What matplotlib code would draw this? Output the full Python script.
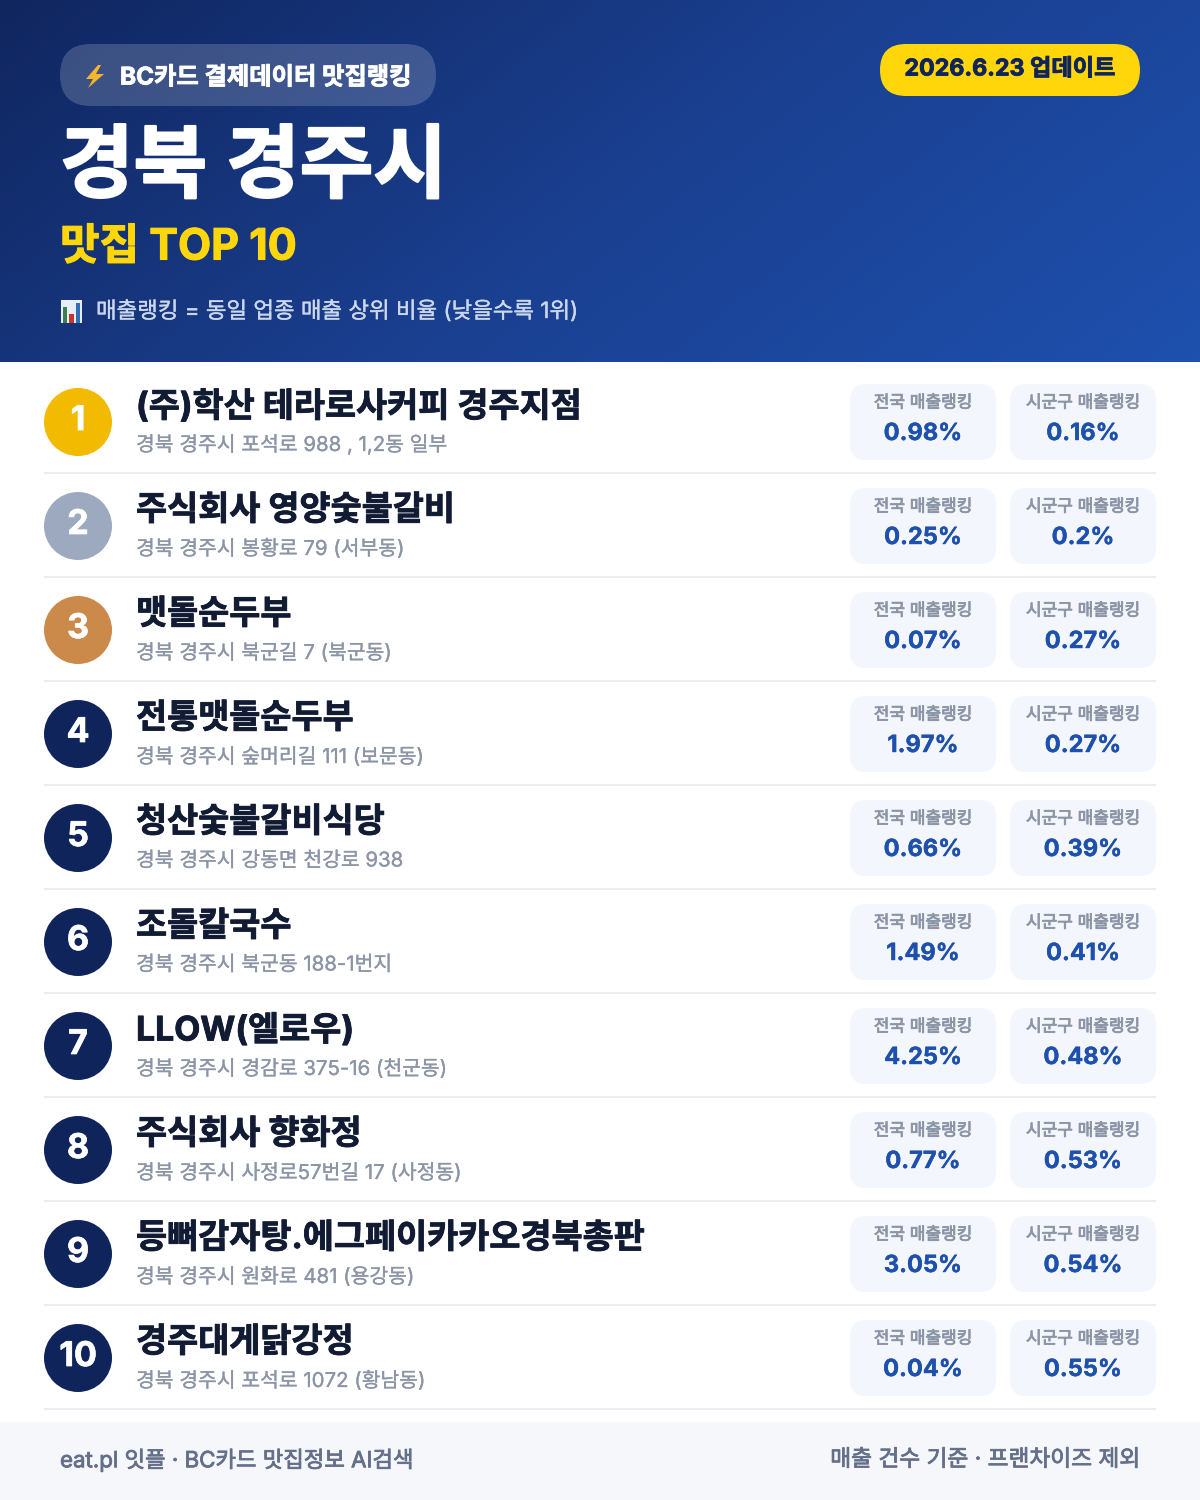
import numpy as np
import matplotlib
matplotlib.use('Agg')
import matplotlib.pyplot as plt
import matplotlib.patheffects as pe
from matplotlib.patches import FancyBboxPatch, Circle, Rectangle, Polygon
from matplotlib.colors import LinearSegmentedColormap

FONT = ['Inter', 'Noto Sans CJK KR', 'DejaVu Sans']
plt.rcParams['font.family'] = FONT

# ---------- data ----------
ranks = [1, 2, 3, 4, 5, 6, 7, 8, 9, 10]
names = ['(주)학산 테라로사커피 경주지점', '주식회사 영양숯불갈비', '맷돌순두부', '전통맷돌순두부', '청산숯불갈비식당',
         '조돌칼국수', 'LLOW(엘로우)', '주식회사 향화정', '등뼈감자탕.에그페이카카오경북총판', '경주대게닭강정']
addresses = ['경북 경주시 포석로 988 , 1,2동 일부', '경북 경주시 봉황로 79 (서부동)', '경북 경주시 북군길 7 (북군동)',
             '경북 경주시 숲머리길 111 (보문동)', '경북 경주시 강동면 천강로 938', '경북 경주시 북군동 188-1번지',
             '경북 경주시 경감로 375-16 (천군동)', '경북 경주시 사정로57번길 17 (사정동)',
             '경북 경주시 원화로 481 (용강동)', '경북 경주시 포석로 1072 (황남동)']
national = ['0.98%', '0.25%', '0.07%', '1.97%', '0.66%', '1.49%', '4.25%', '0.77%', '3.05%', '0.04%']
district = ['0.16%', '0.2%', '0.27%', '0.27%', '0.39%', '0.41%', '0.48%', '0.53%', '0.54%', '0.55%']
badge_colors = ['#F2BA00', '#9CA9BF', '#CC8A4A'] + ['#10245C'] * 7


def px(s):
    return s * 0.72


def heavy(color, w):
    return [pe.withStroke(linewidth=w, foreground=color)]


fig = plt.figure(figsize=(12, 15), dpi=100, facecolor='white')
ax = fig.add_axes([0, 0, 1, 1])
ax.set_xlim(0, 1200)
ax.set_ylim(1500, 0)
ax.axis('off')

# header gradient
cmap = LinearSegmentedColormap.from_list('hdr', ['#10265F', '#1A3F8F', '#1E50AE'])
H, W = 362, 1200
yy, xx = np.mgrid[0:H, 0:W]
t = (xx * 0.78 + yy * 1.0)
t = t / t.max()
ax.imshow(t, cmap=cmap, extent=(0, 1200, 362, 0), aspect='auto', zorder=0, vmin=0, vmax=1)
ax.set_xlim(0, 1200)
ax.set_ylim(1500, 0)


def pill(x, y, w, h, r, **kw):
    p = FancyBboxPatch((x + r, y + r), w - 2 * r, h - 2 * r, boxstyle=f'round,pad={r},rounding_size={r}',
                       linewidth=0, **kw)
    ax.add_patch(p)
    return p


pill(60, 44, 376, 62, 31, facecolor='#FFFFFF', alpha=0.18, zorder=1)
ax.add_patch(Polygon([(98, 65), (86, 79), (93, 79), (88, 88), (104, 74), (96, 74), (101, 65)],
                     closed=True, facecolor='#F7B52C', edgecolor='none', zorder=2))
ax.text(120, 78, 'BC카드 결제데이터 맛집랭킹', color='white', fontsize=px(24.3), fontweight='bold',
        va='center', ha='left', zorder=3, path_effects=heavy('white', 0.6))
pill(880, 44, 260, 52, 26, facecolor='#FFD60A', zorder=1)
ax.text(1010, 69.5, '2026.6.23 업데이트', color='#10245C', fontsize=px(23.2), fontweight='bold',
        va='center', ha='center', zorder=3, path_effects=heavy('#10245C', 0.6))
ax.text(60, 170, '경북 경주시', color='white', fontsize=px(80), fontweight='bold', va='center', ha='left', zorder=3,
        path_effects=heavy('white', 1.6))
ax.text(60, 248, '맛집 TOP 10', color='#FFD60A', fontsize=px(43), fontweight='bold', va='center', ha='left', zorder=3,
        path_effects=heavy('#FFD60A', 0.8))

# chart icon
ax.add_patch(Rectangle((61, 300), 21, 23, facecolor='#E8EEF5', edgecolor='none', zorder=2))
ax.add_patch(Rectangle((63, 307), 4, 16, facecolor='#3C7F4F', edgecolor='none', zorder=3))
ax.add_patch(Rectangle((69, 314), 5, 9, facecolor='#C8342E', edgecolor='none', zorder=3))
ax.add_patch(Rectangle((76, 303), 4, 20, facecolor='#2F6FB5', edgecolor='none', zorder=3))
ax.text(96, 312, '매출랭킹 = 동일 업종 매출 상위 비율 (낮을수록 1위)', color='#CBD7EC', fontsize=px(22.4),
        va='center', ha='left', zorder=3, path_effects=heavy('#CBD7EC', 0.25))

# rows
row_top = 369
row_h = 104
for i, (rk, nm, ad, na, di, bc) in enumerate(zip(ranks, names, addresses, national, district, badge_colors)):
    y0 = row_top + i * row_h
    ax.add_patch(Circle((78, y0 + 53), 34, facecolor=bc, edgecolor='none', zorder=2))
    ax.text(78, y0 + 52, str(rk), color='white', fontsize=px(34), fontweight='bold', ha='center', va='center', zorder=3,
            path_effects=heavy('white', 0.5))
    ax.text(136, y0 + 38, nm, color='#111B33', fontsize=px(33.8), fontweight='bold', ha='left', va='center', zorder=3,
            path_effects=heavy('#111B33', 0.6))
    ax.text(136, y0 + 76, ad, color='#8C95A6', fontsize=px(20.4), ha='left', va='center', zorder=3,
            path_effects=heavy('#8C95A6', 0.2))
    for bx, bw, lab, val in [(850, 146, '전국 매출랭킹', na), (1010, 146, '시군구 매출랭킹', di)]:
        pill(bx, y0 + 15, bw, 76, 16, facecolor='#F3F6FC', zorder=1)
        ax.text(bx + bw / 2, y0 + 34, lab, color='#8C95A6', fontsize=px(17), ha='center', va='center', zorder=3,
                path_effects=heavy('#8C95A6', 0.6))
        ax.text(bx + bw / 2, y0 + 65, val, color='#1E50AE', fontsize=px(23.6), fontweight='bold', ha='center', va='center', zorder=3,
                path_effects=heavy('#1E50AE', 0.3))
    ax.plot([44, 1156], [y0 + 104, y0 + 104], color='#EBEDF0', lw=1.5, zorder=1, solid_capstyle='butt')

# footer
ax.add_patch(Rectangle((0, 1422), 1200, 78, facecolor='#F5F7FB', edgecolor='none', zorder=1))
ax.text(60, 1460, 'eat.pl 잇플 · BC카드 맛집정보 AI검색', color='#64708A', fontsize=px(22.3), ha='left', va='center', zorder=3,
        path_effects=heavy('#64708A', 0.6))
ax.text(1140, 1460, '매출 건수 기준 · 프랜차이즈 제외', color='#64708A', fontsize=px(22.7), ha='right', va='center', zorder=3,
        path_effects=heavy('#64708A', 0.6))

fig.savefig('out.png', dpi=100, facecolor='white')
